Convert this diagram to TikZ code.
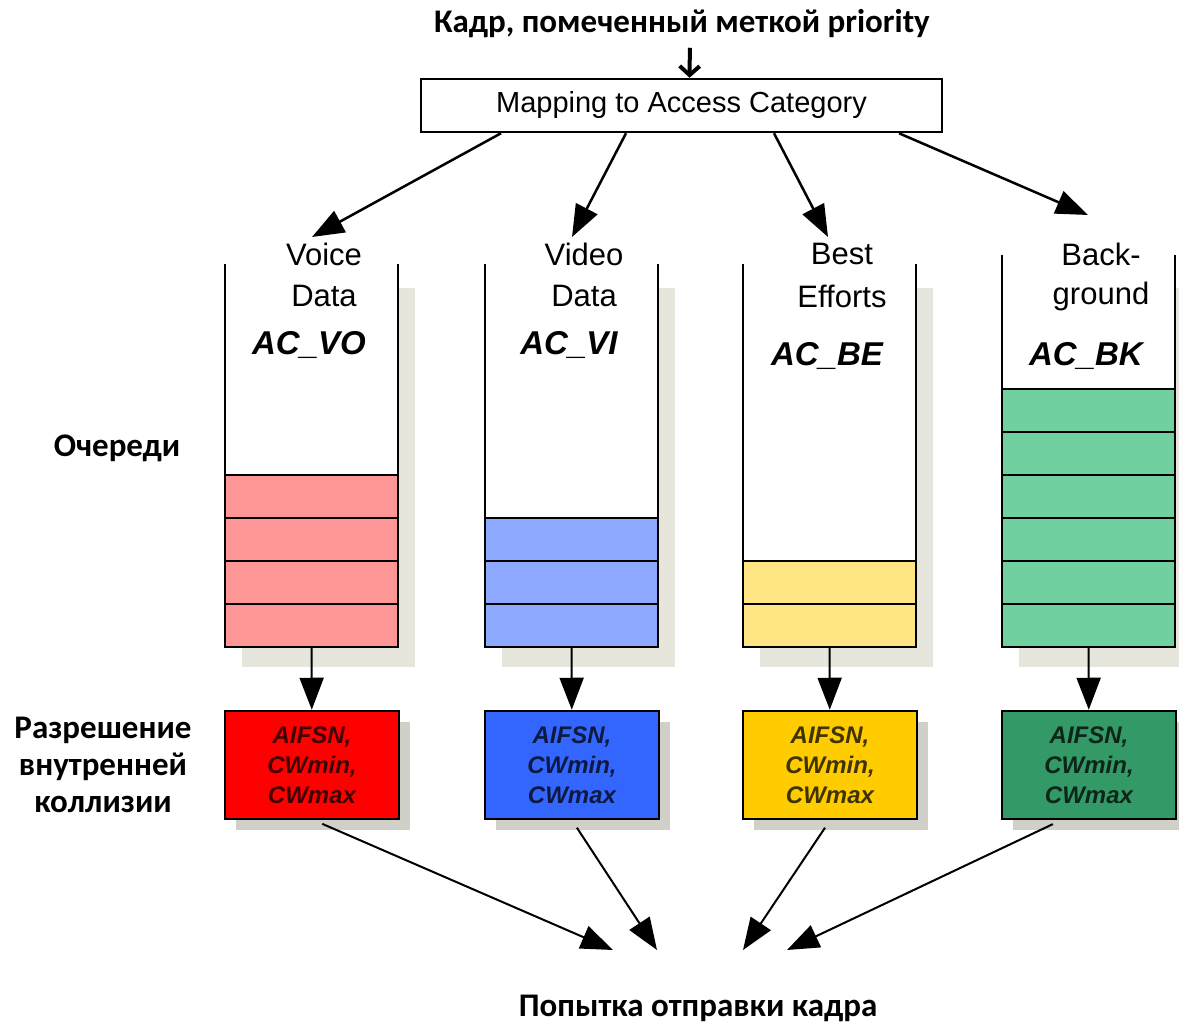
\documentclass[tikz,border=0pt]{standalone}
\usepackage{fontspec}
\setmainfont{Liberation Sans}
\newfontfamily\rufont{Carlito}
\usetikzlibrary{arrows.meta,shadows}
\definecolor{qred}{HTML}{FF9696}
\definecolor{qblue}{HTML}{8CA8FF}
\definecolor{qyellow}{HTML}{FFE584}
\definecolor{qgreen}{HTML}{70D0A0}
\definecolor{bred}{HTML}{FF0000}
\definecolor{bblue}{HTML}{3366FF}
\definecolor{byellow}{HTML}{FFCC00}
\definecolor{bgreen}{HTML}{339966}
\definecolor{qshadow}{HTML}{E6E6DC}
\definecolor{bshadow}{HTML}{D0D0C8}
\begin{document}
\begin{tikzpicture}[x=1pt,y=-1pt,
  arr/.style={-{Triangle[length=32pt,width=24pt]},line width=2pt},
  ruslabel/.style={font=\rufont\bfseries\fontsize{33}{37}\selectfont,align=center},
  qtext/.style={font=\fontsize{31}{35}\selectfont},
  actext/.style={font=\bfseries\itshape\fontsize{33}{37}\selectfont},
  param/.style={draw,line width=2.5pt,minimum width=174pt,minimum height=108pt,
    align=center,font=\bfseries\itshape\fontsize{24}{30}\selectfont,
    drop shadow={shadow xshift=11pt,shadow yshift=-11pt,fill=bshadow,opacity=1}}]
  \useasboundingbox (0,0) rectangle (1179,1032);

  \node[ruslabel] (title) at (682,24) {Кадр, помеченный меткой priority};
  \node[draw,line width=2.5pt,minimum width=521pt,minimum height=53pt,
    font=\fontsize{29}{33}\selectfont] (map) at (681.5,105.5) {Mapping to Access Category};
  \draw[-{Straight Barb[length=9pt,width=20pt]},line width=4pt,shorten <=6pt]
    ([xshift=8pt]title.south) -- ([xshift=8pt]map.north);

  % queues
  \foreach \i/\xl/\top/\n/\col/\bcol/\wa/\wb/\ac/\acy in {
      1/225/264/4/qred/bred/Voice/Data/AC\_VO/345,
      2/485/264/3/qblue/bblue/Video/Data/AC\_VI/345,
      3/743/264/2/qyellow/byellow/Best/Efforts/AC\_BE/356,
      4/1002/255/6/qgreen/bgreen/Back-/ground/AC\_BK/356} {
    \fill[qshadow] (\xl+17,288) rectangle (\xl+190,667);
    \fill[white] (\xl,\top) rectangle (\xl+173,647);
    \fill[\col] (\xl,647-\n*43) rectangle (\xl+173,647);
    \foreach \k in {1,...,\n}
      \draw[line width=2pt] (\xl,647-\k*43) -- ++(173,0);
    \draw[line width=2pt] (\xl,\top) |- (\xl+173,647) -- (\xl+173,\top);
    \node[qtext] (w\i a) at (\xl+99,254) {\wa};
    \node[qtext] (w\i b) at (\xl+99,296) {\wb};
    \node[actext] (ac\i) at (\xl+84,\acy) {\ac};
    \coordinate (qb\i) at (\xl+86.5,647);
    \node[param,fill=\bcol,text=\bcol!25!black] (b\i) at (\xl+87,765)
      {AIFSN,\\CWmin,\\CWmax};
    \draw[arr] (qb\i) -- (b\i);
  }

  % from mapping box to queues
  \coordinate (t1) at (312,237);
  \coordinate (t2) at (572,237);
  \coordinate (t3) at (828,237);
  \coordinate (t4) at (1088,215);
  \foreach \i/\dx in {1/-180.5,2/-55.5,3/92.5,4/217.5}
    \draw[arr,line width=2.5pt] ([xshift=\dx pt]map.south) -- (t\i);

  % to the transmit attempt
  \coordinate (s1) at (613,950);
  \coordinate (s2) at (657,950);
  \coordinate (s3) at (743,950);
  \coordinate (s4) at (787,950);
  \foreach \i/\dx in {1/2,2/0,3/0,4/-28}
    \draw[arr,shorten <=9pt] ([xshift=\dx pt]b\i.south) -- (s\i);

  \node[ruslabel] (queues) at (117,448) {Очереди};
  \node[ruslabel] (resolve) at (103,765) {Разрешение\\внутренней\\коллизии};
  \node[ruslabel] (send) at (698,1008) {Попытка отправки кадра};
\end{tikzpicture}
\end{document}
